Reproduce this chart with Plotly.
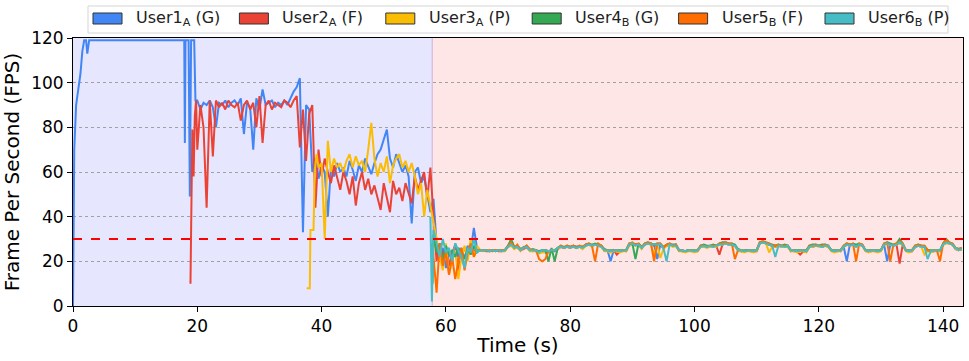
import plotly.graph_objects as go

# phase switch (s) and FPS threshold
SWITCH_T = 57.8
THRESHOLD = 30

names = ["User1<sub>A</sub> (G)", "User2<sub>A</sub> (F)", "User3<sub>A</sub> (P)",
         "User4<sub>B</sub> (G)", "User5<sub>B</sub> (F)", "User6<sub>B</sub> (P)"]
colors = ["#4285F4", "#EA4335", "#FBBC04", "#34A853", "#FF6D01", "#46BDC6"]

# sampling grids (s)
t_a = [20 + 0.5 * i for i in range(76)]     # 20.0 .. 57.5
t_y = [40 + 0.5 * i for i in range(36)]     # 40.0 .. 57.5
t_b = [58 + 0.5 * i for i in range(16)]     # 58.0 .. 65.5
t_c = [66 + 0.5 * i for i in range(155)]    # 66.0 .. 143.0

# ---- User1 (A, G)
u1_t0 = [0, 0.2, 0.5, 0.9, 1.2, 1.5, 1.8, 2.1, 2.3, 2.6, 17.9, 18.0, 18.1, 18.3,
         18.6, 18.8, 19.0, 19.2, 19.5, 19.7]
u1_y0 = [0, 70, 90, 97, 104, 114, 119, 119, 113, 119, 119, 73, 119, 119,
         119, 49, 119, 119, 119, 92]
u1_a = [92, 88, 91, 90, 92, 89, 80, 91, 90, 92,
        89, 91, 92, 90, 93, 77, 91, 89, 70, 93,
        88, 97, 90, 91, 92, 89, 91, 90, 92, 90,
        93, 96, 98, 102, 33, 90, 88, 60, 66, 57,
        63, 60, 40, 62, 58, 64, 60, 62, 58, 65,
        61, 56, 63, 60, 66, 62, 59, 64, 68, 70,
        74, 79, 66, 62, 68, 64, 60, 63, 58, 37,
        60, 62, 55, 58, 50, 42]
u1_b = [48, 28, 22, 26, 17, 24, 20, 28, 22, 26, 21, 27, 25, 35, 26, 25]
u1_c = [25, 25, 24.5, 25, 24.5, 25, 24.5, 25, 27, 27.5,
        26.5, 26, 25, 26.5, 26, 25, 25, 24.5, 24.5, 25,
        25, 24.5, 25, 24.5, 26, 26.5, 26, 27, 26.5, 26.5,
        26, 26.5, 26, 27.5, 27.5, 27, 27.5, 27.5, 26.5, 25,
        25, 20, 25, 24.5, 24.5, 25, 25, 27.5, 28, 27.5,
        27.5, 26, 27.5, 28, 27.5, 27.5, 21, 27.5, 26, 27,
        27.5, 27, 27.5, 25, 24.5, 24.5, 25, 24.5, 24.5, 25,
        26.5, 27, 26.5, 27, 26.5, 27, 27.5, 28, 28, 27.5,
        27.5, 27, 25, 24.5, 24.5, 25, 24.5, 24.5, 25, 28,
        28.5, 28, 27.5, 27, 27, 27, 26.5, 27, 26.5, 25,
        24.5, 24.5, 25, 24.5, 24.5, 26.5, 27, 27, 27, 26.5,
        27, 27, 25, 24.5, 25, 24.5, 26.5, 20, 27.5, 27.5,
        27, 27.5, 27, 25, 24.5, 24.5, 25, 24.5, 25, 27.5,
        20, 27.5, 27, 27.5, 28.5, 27.5, 25, 24.5, 24.5, 26.5,
        27, 27, 26.5, 25, 24.5, 24.5, 25, 24.5, 27.5, 28.5,
        28, 27.5, 25.5, 25, 25.5]

# ---- User2 (A, F)
u2_t0 = [18.9, 19.2, 19.4, 19.6, 19.8]
u2_y0 = [10, 79, 58, 85, 92]
u2_a = [70, 90, 80, 44, 92, 67, 92, 89, 91, 88,
        92, 90, 89, 91, 83, 90, 92, 88, 91, 80,
        94, 73, 90, 92, 88, 91, 90, 89, 92, 91,
        89, 92, 94, 71, 88, 65, 86, 90, 44, 70,
        58, 66, 60, 55, 63, 57, 52, 60, 56, 50,
        58, 45, 55, 60, 52, 57, 50, 54, 48, 43,
        55, 49, 42, 56, 50, 53, 47, 55, 50, 46,
        58, 52, 56, 60, 48, 62]
u2_b = [40, 20, 28, 22, 26, 18, 24, 27, 15, 23, 26, 22, 28, 24, 26, 25]
u2_c = [25, 24.5, 24.5, 25, 25, 24.5, 24.5, 25, 26.5, 27.5,
        26, 26.5, 25, 25.5, 26.5, 25, 24.5, 25, 24, 24.5,
        25, 24.5, 24.5, 25, 25.5, 26.5, 26, 26.5, 26, 27,
        26.5, 26.5, 26, 27, 27.5, 27, 27.5, 27, 27, 25,
        24.5, 24.5, 25, 23, 24.5, 25, 24.5, 27.5, 27.5, 27.5,
        27.5, 26, 27.5, 28, 28, 27, 27.5, 27.5, 26, 27,
        27.5, 27, 27, 25, 24.5, 24.5, 25, 25, 24.5, 24.5,
        27, 26.5, 26.5, 26.5, 27, 27, 23, 27.5, 28, 27.5,
        27.5, 27, 25, 24.5, 24.5, 25, 24.5, 24.5, 24.5, 28,
        28.5, 28, 27.5, 27, 26.5, 27, 27, 26.5, 27, 24.5,
        25, 24.5, 23, 24.5, 24.5, 27, 26.5, 27, 27, 26.5,
        27, 26.5, 25, 24.5, 24.5, 25, 26.5, 27.5, 27, 27.5,
        26.5, 27.5, 27, 25, 24.5, 25, 24.5, 24.5, 25, 27.5,
        28, 27.5, 27, 27.5, 19, 27.5, 25, 24.5, 24.5, 26.5,
        27, 26.5, 26.5, 25, 24.5, 24.5, 25, 24.5, 27.5, 28.5,
        28, 27.5, 26, 25, 25.5]

# ---- User3 (A, P)
u3_t0 = [37.6, 38.1, 38.2, 38.7, 38.9, 39.2, 39.5]
u3_y0 = [8, 8, 34, 34, 61, 68, 62]
u3_a = [64, 30, 74, 60, 66, 62, 64, 60, 65, 68,
        62, 67, 63, 65, 60, 70, 82, 66, 58, 64,
        60, 67, 55, 63, 66, 68, 62, 65, 60, 64,
        58, 50, 55, 40, 52, 45]
u3_b = [38, 30, 22, 16, 28, 14, 20, 25, 12, 22, 27, 20, 30, 22, 27, 25]
u3_c = [24.5, 25, 24.5, 24.5, 25, 25, 24.5, 24.5, 26.5, 27,
        25.5, 26.5, 24.5, 26, 26.5, 24.5, 24.5, 24.5, 23.5, 24,
        24, 24.5, 24.5, 25, 25.5, 26.5, 26, 26.5, 26, 26.5,
        26, 26.5, 25.5, 27, 27.5, 26.5, 27.5, 27, 26.5, 24.5,
        24.5, 24, 24.5, 24.5, 24, 24.5, 24.5, 27, 27.5, 27,
        27.5, 25.5, 27.5, 28, 27.5, 23, 27.5, 21.5, 25.5, 27,
        27.5, 26.5, 27, 24.5, 24.5, 24, 24.5, 24.5, 24, 24.5,
        26.5, 26.5, 26, 26.5, 26.5, 26.5, 27.5, 27.5, 28, 27.5,
        27.5, 27, 24.5, 24.5, 24, 24.5, 24.5, 24, 24.5, 28,
        28.5, 28, 24, 26.5, 26.5, 27, 26.5, 26.5, 26.5, 24.5,
        24.5, 24, 24.5, 24.5, 24, 26.5, 26.5, 27, 26.5, 26.5,
        27, 26.5, 24.5, 24, 24.5, 24.5, 26.5, 27.5, 27, 27.5,
        26.5, 27.5, 27, 24.5, 24, 24.5, 24.5, 24, 24.5, 27.5,
        28, 27.5, 27, 27.5, 28, 27.5, 24.5, 24, 24.5, 26.5,
        27, 26.5, 23, 24.5, 24, 24.5, 24.5, 24.5, 27.5, 28,
        28, 27.5, 25.5, 25, 25.5]

# ---- User4 (B, G)
u4_t0 = [57.7, 57.85]
u4_y0 = [28, 10]
u4_b = [32, 24, 28, 20, 27, 23, 25, 22, 26, 24, 21, 26, 23, 27, 24, 25]
u4_c = [25, 25, 24.5, 25, 24.5, 25, 25, 25, 27, 30,
        26.5, 27, 25.5, 26, 27, 25, 25.5, 25, 24.5, 25,
        25, 20, 26, 20, 26, 27, 26.5, 27, 26.5, 27,
        26.5, 27, 26.5, 27.5, 28, 27.5, 28, 27.5, 27, 25.5,
        25, 25, 25, 25, 25, 25, 25, 28, 28, 21,
        28, 26.5, 28, 28.5, 28, 27.5, 28, 28, 26.5, 27.5,
        28, 27.5, 27.5, 25, 25, 24.5, 25, 25, 25, 25,
        27, 27.5, 27, 27, 27.5, 27, 28, 28.5, 28.5, 28,
        28, 27.5, 25.5, 25, 25, 25, 25, 25, 25, 28.5,
        29, 28.5, 28, 27.5, 27, 27.5, 27, 27.5, 27, 25,
        25, 25, 25, 25, 25, 27, 27.5, 27.5, 27, 27.5,
        27.5, 27, 25, 25, 25, 25, 27, 28, 27.5, 28,
        27.5, 28, 27.5, 25, 25, 25, 25, 25, 25, 28,
        28.5, 28, 27.5, 28, 30, 28, 25, 25, 25, 27,
        27.5, 27, 27, 25, 25, 25, 25, 25, 28, 30,
        28.5, 28, 26, 25.5, 26]

# ---- User5 (B, F)
u5_t0 = [57.9]
u5_y0 = [28]
u5_b = [22, 6, 28, 18, 24, 14, 22, 12, 20, 26, 16, 24, 28, 22, 25, 25]
u5_c = [25, 24.5, 25, 24.5, 25, 24.5, 25, 25, 27, 28.5,
        26, 27.5, 25, 26, 27, 25.5, 25, 25, 21, 20,
        21, 24.5, 25, 25, 26, 27, 26, 27, 26.5, 27,
        26, 27, 26.5, 27.5, 28, 27, 20, 28, 27, 25,
        25, 24.5, 25, 25, 24.5, 25, 25, 28, 28.5, 27.5,
        28, 26, 28, 28.5, 28, 20, 28, 28, 26, 27.5,
        28, 27, 27.5, 25, 25, 24.5, 25, 25, 24.5, 25,
        27, 27, 26.5, 27, 27, 27, 28, 28, 28.5, 28,
        28, 21, 25, 25, 24.5, 25, 25, 24.5, 25, 28.5,
        29, 28.5, 28, 27, 27, 27.5, 27, 27, 27, 25,
        25, 24.5, 25, 25, 24.5, 27, 27, 27.5, 27, 27,
        27.5, 27, 25, 24.5, 25, 25, 27, 28, 27.5, 28,
        20, 28, 27.5, 25, 24.5, 25, 25, 24.5, 25, 28,
        28.5, 20, 27.5, 28, 29, 28, 25, 24.5, 25, 27,
        27.5, 27, 27, 25, 24.5, 25, 25, 20, 28, 29.5,
        28.5, 28, 26, 25.5, 26]

# ---- User6 (B, P)
u6_t0 = [57.5, 57.75]
u6_y0 = [40, 2]
u6_b = [34, 28, 22, 30, 24, 26, 20, 28, 25, 22, 17, 26, 24, 30, 24, 25]
u6_c = [25, 25, 24.5, 25, 24.5, 25, 24.5, 25, 26.5, 27.5,
        26, 26.5, 25, 26, 26.5, 25, 25, 25, 24, 25,
        25, 24.5, 25, 25, 26, 26.5, 26, 26.5, 26, 26.5,
        26, 26.5, 26, 27, 27.5, 27, 27.5, 27, 26.5, 25,
        25, 24.5, 25, 25, 24.5, 25, 25, 27.5, 28, 27,
        27.5, 26, 27.5, 28, 27.5, 27.5, 27.5, 27.5, 26, 20,
        27.5, 27, 27, 25, 25, 24.5, 25, 25, 24.5, 25,
        26.5, 27, 26.5, 27, 26.5, 27, 27.5, 27.5, 28, 27.5,
        27.5, 27, 25, 25, 24.5, 25, 25, 24.5, 25, 28,
        28.5, 28, 27.5, 27, 22, 27, 27, 26.5, 27, 25,
        25, 24.5, 25, 25, 24.5, 26.5, 27, 27, 27, 26.5,
        27, 27, 25, 24.5, 25, 25, 26.5, 27.5, 27, 27.5,
        26.5, 27.5, 27, 25, 24.5, 25, 25, 24.5, 25, 27.5,
        28, 27.5, 27, 27.5, 28.5, 27.5, 25, 24.5, 25, 26.5,
        27, 26.5, 26.5, 21, 24.5, 25, 25, 25, 27.5, 28.5,
        28, 27.5, 26, 25, 25.5]

series = [
    (u1_t0 + t_a + t_b + t_c, u1_y0 + u1_a + u1_b + u1_c),
    (u2_t0 + t_a + t_b + t_c, u2_y0 + u2_a + u2_b + u2_c),
    (u3_t0 + t_y + t_b + t_c, u3_y0 + u3_a + u3_b + u3_c),
    (u4_t0 + t_b + t_c, u4_y0 + u4_b + u4_c),
    (u5_t0 + t_b + t_c, u5_y0 + u5_b + u5_c),
    (u6_t0 + t_b + t_c, u6_y0 + u6_b + u6_c),
]

# plot area in pixels
L, R, T, B = 73, 6, 38, 55
W, H = 969, 361
PW, PH = W - L - R, H - T - B


def px(x):
    return (x - L) / PW


def py(y):
    return (H - B - y) / PH


fig = go.Figure()
for (xs, ys), name, c in zip(series, names, colors):
    fig.add_trace(go.Scatter(x=xs, y=ys, mode="lines", name=name,
                             line=dict(color=c, width=2), showlegend=False))

shapes = [
    dict(type="rect", xref="x", yref="paper", x0=0, x1=SWITCH_T, y0=0, y1=1,
         fillcolor="#E6E6FF", line_width=0, layer="below"),
    dict(type="rect", xref="x", yref="paper", x0=SWITCH_T, x1=200, y0=0, y1=1,
         fillcolor="#FFE6E6", line_width=0, layer="below"),
    dict(type="line", xref="x", yref="paper", x0=SWITCH_T, x1=SWITCH_T, y0=0, y1=1,
         line=dict(color="rgba(190,150,210,0.7)", width=1), layer="below"),
    dict(type="line", xref="paper", yref="y", x0=0, x1=1, y0=THRESHOLD, y1=THRESHOLD,
         line=dict(color="#FF0000", width=2, dash="dash")),
    # legend frame
    dict(type="rect", xref="paper", yref="paper", x0=px(88), x1=px(948), y0=py(33), y1=py(6),
         fillcolor="white", line=dict(color="#D5D5D5", width=1)),
]
annotations = []
for i, (name, c) in enumerate(zip(names, colors)):
    bx = 93 + 146.4 * i
    shapes.append(dict(type="rect", xref="paper", yref="paper",
                       x0=px(bx), x1=px(bx + 29), y0=py(24), y1=py(13),
                       fillcolor=c, line=dict(color="#333333", width=1)))
    annotations.append(dict(xref="paper", yref="paper", x=px(bx + 41), y=py(18.5),
                            text=name, showarrow=False, xanchor="left", yanchor="middle",
                            font=dict(family="DejaVu Sans", size=16, color="#222222")))

fig.update_layout(
    width=W, height=H,
    margin=dict(l=L, r=R, t=T, b=B),
    paper_bgcolor="white", plot_bgcolor="white",
    shapes=shapes, annotations=annotations,
    font=dict(family="DejaVu Sans", color="black"),
    xaxis=dict(range=[0, 143.2], tickvals=[0, 20, 40, 60, 80, 100, 120, 140],
               showgrid=False, zeroline=False, showline=True, linecolor="black",
               linewidth=1, mirror=True, ticks="outside", ticklen=5, tickcolor="black",
               tickfont=dict(size=17), automargin=False,
               title=dict(text="Time (s)", font=dict(size=20), standoff=2)),
    yaxis=dict(range=[0, 120], tickvals=[0, 20, 40, 60, 80, 100, 120],
               showgrid=True, gridcolor="#A0A0A0", griddash="dot", gridwidth=1,
               zeroline=False, showline=True, linecolor="black",
               linewidth=1, mirror=True, ticks="outside", ticklen=5, tickcolor="black",
               tickfont=dict(size=17), automargin=False,
               title=dict(text="Frame Per Second (FPS)", font=dict(size=20), standoff=6)),
)

# page body has a default margin; remove it so the figure fills the window
fig.write_html("out.html", config={"displayModeBar": False},
               post_script="document.body.style.margin='0px';")
